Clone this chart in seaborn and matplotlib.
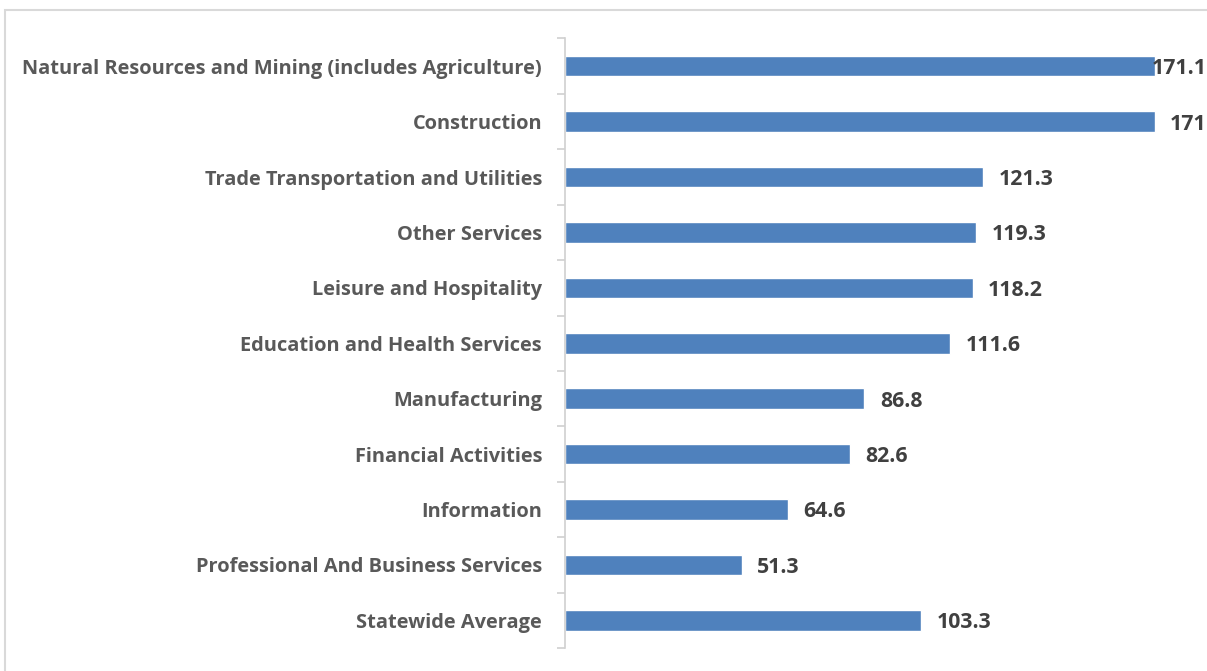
import matplotlib
matplotlib.use("Agg")
import matplotlib.pyplot as plt
from matplotlib.patches import Rectangle
import seaborn as sns
import pandas as pd
import numpy as np

industries = [
    "Natural Resources and Mining (includes Agriculture)",
    "Construction",
    "Trade Transportation and Utilities",
    "Other Services",
    "Leisure and Hospitality",
    "Education and Health Services",
    "Manufacturing",
    "Financial Activities",
    "Information",
    "Professional And Business Services",
    "Statewide Average",
]
values = [171.1, 171, 121.3, 119.3, 118.2, 111.6, 86.8, 82.6, 64.6, 51.3, 103.3]
value_labels = ["171.1", "171", "121.3", "119.3", "118.2", "111.6", "86.8", "82.6", "64.6", "51.3", "103.3"]

df = pd.DataFrame({"industry": industries, "value": values})

sns.set_theme(style="white")
plt.rcParams["font.family"] = ["Open Sans", "DejaVu Sans"]

fig = plt.figure(figsize=(12.07, 6.71), dpi=100)
ax = fig.add_axes([565 / 1207, 1 - 648 / 671, 1 - 565 / 1207, (648 - 38.5) / 671])

sns.barplot(data=df, x="value", y="industry", color="#4F81BD", saturation=1,
            width=0.37, ax=ax, orient="h")

ax.set_xlim(0, 186.2)
ax.set_ylim(len(industries) - 0.5, -0.5)
ax.set_xlabel("")
ax.set_ylabel("")
ax.set_xticks([])

for s in ["top", "right", "bottom"]:
    ax.spines[s].set_visible(False)
ax.spines["left"].set_color("#D0D0D0")
ax.spines["left"].set_linewidth(1.2)

ax.tick_params(axis="y", which="major", length=0, pad=16.5,
               labelsize=14.4, labelcolor="#595959")
for t in ax.get_yticklabels():
    t.set_fontweight("bold")
ax.set_yticks(np.arange(-0.5, len(industries) + 0.5, 1), minor=True)
ax.tick_params(axis="y", which="minor", length=6, width=1.2, color="#D0D0D0", left=True)

for i, (v, lab) in enumerate(zip(values, value_labels)):
    if lab == "171.1":
        ax.text(186.2, i, lab, ha="right", va="center_baseline", fontsize=15.3,
                fontweight="bold", color="#404040")
    else:
        ax.text(v + 4.5, i, lab, ha="left", va="center_baseline", fontsize=15.3,
                fontweight="bold", color="#404040")

# chart frame
fig.patches.append(Rectangle((5 / 1207, -0.05), 1.1, 1 - 10 / 671 + 0.05,
                             transform=fig.transFigure, fill=False,
                             edgecolor="#D9D9D9", linewidth=1.5))

fig.savefig("out.png", dpi=100)
